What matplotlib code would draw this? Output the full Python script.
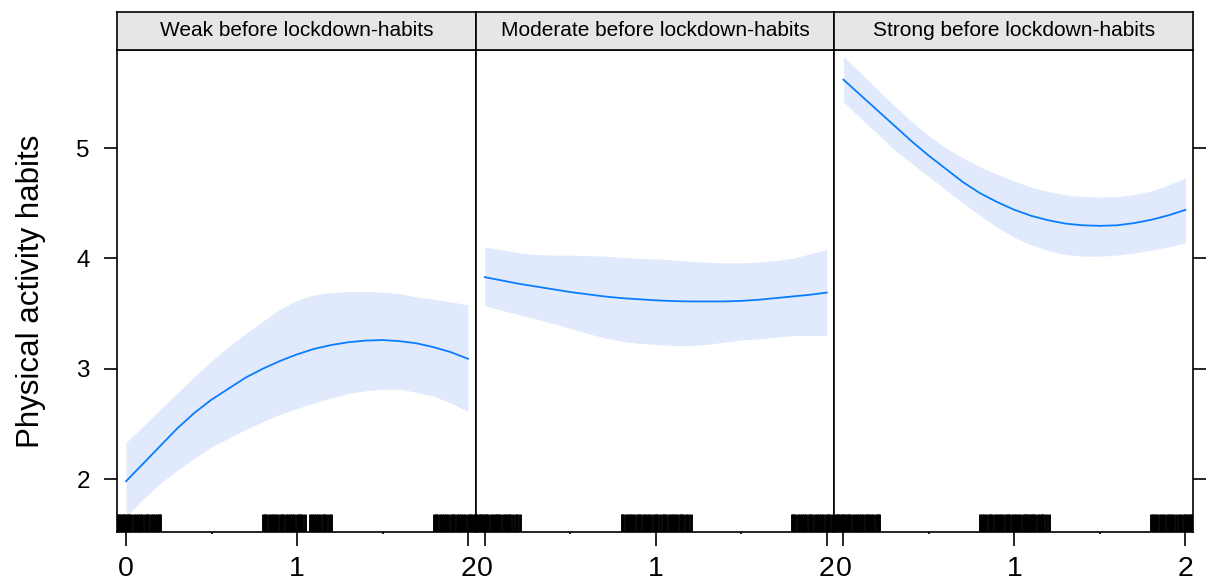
import matplotlib.pyplot as plt
import matplotlib.transforms as mtrans

plt.rcParams['font.family'] = ['Liberation Sans', 'DejaVu Sans']

# predictor grid, shared by the three panels
x_grid = [0.0, 0.1, 0.2, 0.3, 0.4, 0.5, 0.6, 0.7, 0.8, 0.9, 1.0,
          1.1, 1.2, 1.3, 1.4, 1.5, 1.6, 1.7, 1.8, 1.9, 2.0]

panel_titles = ['Weak before lockdown-habits',
                'Moderate before lockdown-habits',
                'Strong before lockdown-habits']

# fitted values and confidence band
weak_fit = [1.98, 2.14, 2.30, 2.46, 2.60, 2.72, 2.82, 2.92, 3.00, 3.07, 3.13,
            3.18, 3.215, 3.24, 3.255, 3.26, 3.25, 3.23, 3.195, 3.15, 3.09]
weak_upper = [2.33, 2.48, 2.63, 2.78, 2.93, 3.07, 3.20, 3.32, 3.43, 3.54, 3.62,
              3.67, 3.69, 3.70, 3.70, 3.695, 3.68, 3.65, 3.63, 3.605, 3.58]
weak_lower = [1.66, 1.82, 1.96, 2.08, 2.19, 2.29, 2.37, 2.45, 2.52, 2.585, 2.64,
              2.69, 2.735, 2.775, 2.80, 2.815, 2.815, 2.785, 2.75, 2.69, 2.61]

moderate_fit = [3.83, 3.80, 3.77, 3.745, 3.72, 3.695, 3.675, 3.655, 3.64, 3.63, 3.62,
                3.613, 3.61, 3.61, 3.61, 3.615, 3.625, 3.64, 3.655, 3.67, 3.69]
moderate_upper = [4.10, 4.08, 4.05, 4.035, 4.03, 4.03, 4.025, 4.02, 4.01, 4.00, 3.995,
                  3.985, 3.975, 3.965, 3.96, 3.96, 3.965, 3.98, 4.00, 4.04, 4.08]
moderate_lower = [3.57, 3.53, 3.49, 3.45, 3.41, 3.365, 3.32, 3.28, 3.25, 3.23, 3.22,
                  3.21, 3.21, 3.22, 3.24, 3.26, 3.27, 3.285, 3.30, 3.30, 3.30]

strong_fit = [5.62, 5.48, 5.34, 5.20, 5.06, 4.93, 4.81, 4.69, 4.59, 4.51, 4.44,
              4.385, 4.345, 4.315, 4.30, 4.295, 4.30, 4.32, 4.35, 4.39, 4.44]
strong_upper = [5.83, 5.68, 5.53, 5.38, 5.24, 5.11, 5.00, 4.91, 4.83, 4.76, 4.70,
                4.645, 4.605, 4.575, 4.56, 4.555, 4.56, 4.58, 4.61, 4.665, 4.73]
strong_lower = [5.42, 5.27, 5.13, 4.98, 4.86, 4.74, 4.62, 4.50, 4.39, 4.28, 4.19,
                4.12, 4.07, 4.035, 4.02, 4.02, 4.03, 4.05, 4.075, 4.105, 4.14]

# rug of (jittered) observations per panel
weak_rug = [-0.05, -0.04, -0.03, -0.02, -0.01, 0.0, 0.01, 0.02, 0.03, 0.045, 0.06,
            0.07, 0.08, 0.095, 0.11, 0.12, 0.13, 0.145, 0.16, 0.17, 0.18, 0.19, 0.2,
            0.80, 0.81, 0.82, 0.835, 0.85, 0.86, 0.87, 0.885, 0.90, 0.91, 0.92, 0.935,
            0.95, 0.96, 0.97, 0.985, 1.0, 1.01, 1.02, 1.03, 1.045, 1.075, 1.085, 1.10,
            1.11, 1.12, 1.135, 1.15, 1.16, 1.17, 1.185, 1.2,
            1.80, 1.81, 1.82, 1.835, 1.85, 1.86, 1.87, 1.885, 1.9, 1.91, 1.92, 1.935,
            1.95, 1.96, 1.97, 1.985, 2.0, 2.01, 2.02, 2.03, 2.04, 2.05]
moderate_rug = [-0.05, -0.04, -0.03, -0.02, -0.01, 0.0, 0.01, 0.02, 0.035, 0.05, 0.06,
                0.07, 0.08, 0.09, 0.105, 0.12, 0.13, 0.14, 0.15, 0.165, 0.18, 0.19, 0.205,
                0.80, 0.81, 0.825, 0.84, 0.85, 0.86, 0.875, 0.89, 0.90, 0.91, 0.925, 0.94,
                0.95, 0.96, 0.975, 0.99, 1.0, 1.01, 1.025, 1.04, 1.05, 1.06, 1.075, 1.09,
                1.10, 1.11, 1.125, 1.14, 1.15, 1.16, 1.175, 1.19, 1.205,
                1.795, 1.805, 1.815, 1.83, 1.845, 1.855, 1.865, 1.88, 1.895, 1.905, 1.915,
                1.93, 1.945, 1.955, 1.965, 1.98, 1.995, 2.005, 2.015, 2.03, 2.04, 2.05]
strong_rug = [-0.05, -0.04, -0.03, -0.02, -0.01, 0.0, 0.01, 0.02, 0.03, 0.04, 0.055,
              0.07, 0.08, 0.09, 0.1, 0.115, 0.13, 0.14, 0.15, 0.16, 0.175, 0.19, 0.2, 0.21,
              0.80, 0.81, 0.82, 0.835, 0.85, 0.86, 0.87, 0.885, 0.90, 0.91, 0.92, 0.935,
              0.95, 0.96, 0.97, 0.985, 1.0, 1.01, 1.02, 1.035, 1.05, 1.06, 1.07, 1.08,
              1.09, 1.10, 1.11, 1.12, 1.135, 1.15, 1.16, 1.17, 1.185, 1.2,
              1.80, 1.81, 1.82, 1.835, 1.85, 1.865, 1.875, 1.89, 1.905, 1.915, 1.93,
              1.945, 1.96, 1.975, 1.99, 2.0, 2.01, 2.02, 2.03, 2.04, 2.05]

fits = [weak_fit, moderate_fit, strong_fit]
uppers = [weak_upper, moderate_upper, strong_upper]
lowers = [weak_lower, moderate_lower, strong_lower]
rugs = [weak_rug, moderate_rug, strong_rug]

y_ticks = [2, 3, 4, 5]
x_ticks = [0, 1, 2]

line_col = '#0a7cff'
band_col = '#e0eafc'
strip_col = '#e6e6e6'

fig = plt.figure(figsize=(12.06, 5.87), dpi=100)

left0 = 117 / 1206
pw = 358.7 / 1206
bottom = 1 - 532 / 587
ph = (532 - 50) / 587
sh = (50 - 12) / 587

for i in range(3):
    ax = fig.add_axes([left0 + i * pw, bottom, pw, ph])
    ax.fill_between(x_grid, lowers[i], uppers[i], color=band_col, lw=0)
    ax.plot(x_grid, fits[i], color=line_col, lw=1.3)
    trans = mtrans.blended_transform_factory(ax.transData, ax.transAxes)
    ax.vlines(rugs[i], 0, 0.037, colors='black', lw=2.1, transform=trans)
    ax.set_xlim(-0.053, 2.045)
    ax.set_ylim(1.52, 5.889)
    for s in ax.spines.values():
        s.set_linewidth(1.2)
    ax.set_xticks(x_ticks)
    ax.set_xticks([0.5, 1.5], minor=True)
    ax.tick_params(axis='x', which='major', direction='out', length=10,
                   width=1.2, labelsize=20.5, pad=7)
    ax.tick_params(axis='x', which='minor', direction='out', length=1.2, width=1.2)
    ax.set_yticks(y_ticks)
    if i == 0:
        ax.tick_params(axis='y', direction='out', length=9.5, width=1.2,
                       labelsize=17.5, pad=10)
        ax.set_ylabel('Physical activity habits', fontsize=22.5, labelpad=22)
    elif i == 2:
        ax.yaxis.tick_right()
        ax.tick_params(axis='y', direction='out', length=9, width=1.2,
                       labelright=False)
    else:
        ax.tick_params(axis='y', length=0, labelleft=False)

    sax = fig.add_axes([left0 + i * pw, 1 - 50 / 587, pw, sh])
    sax.set_facecolor(strip_col)
    sax.set_xticks([])
    sax.set_yticks([])
    for s in sax.spines.values():
        s.set_linewidth(1.2)
    sax.text(0.5, 0.5, panel_titles[i], ha='center', va='center',
             fontsize=15, transform=sax.transAxes)

fig.savefig('out.png', dpi=100)
